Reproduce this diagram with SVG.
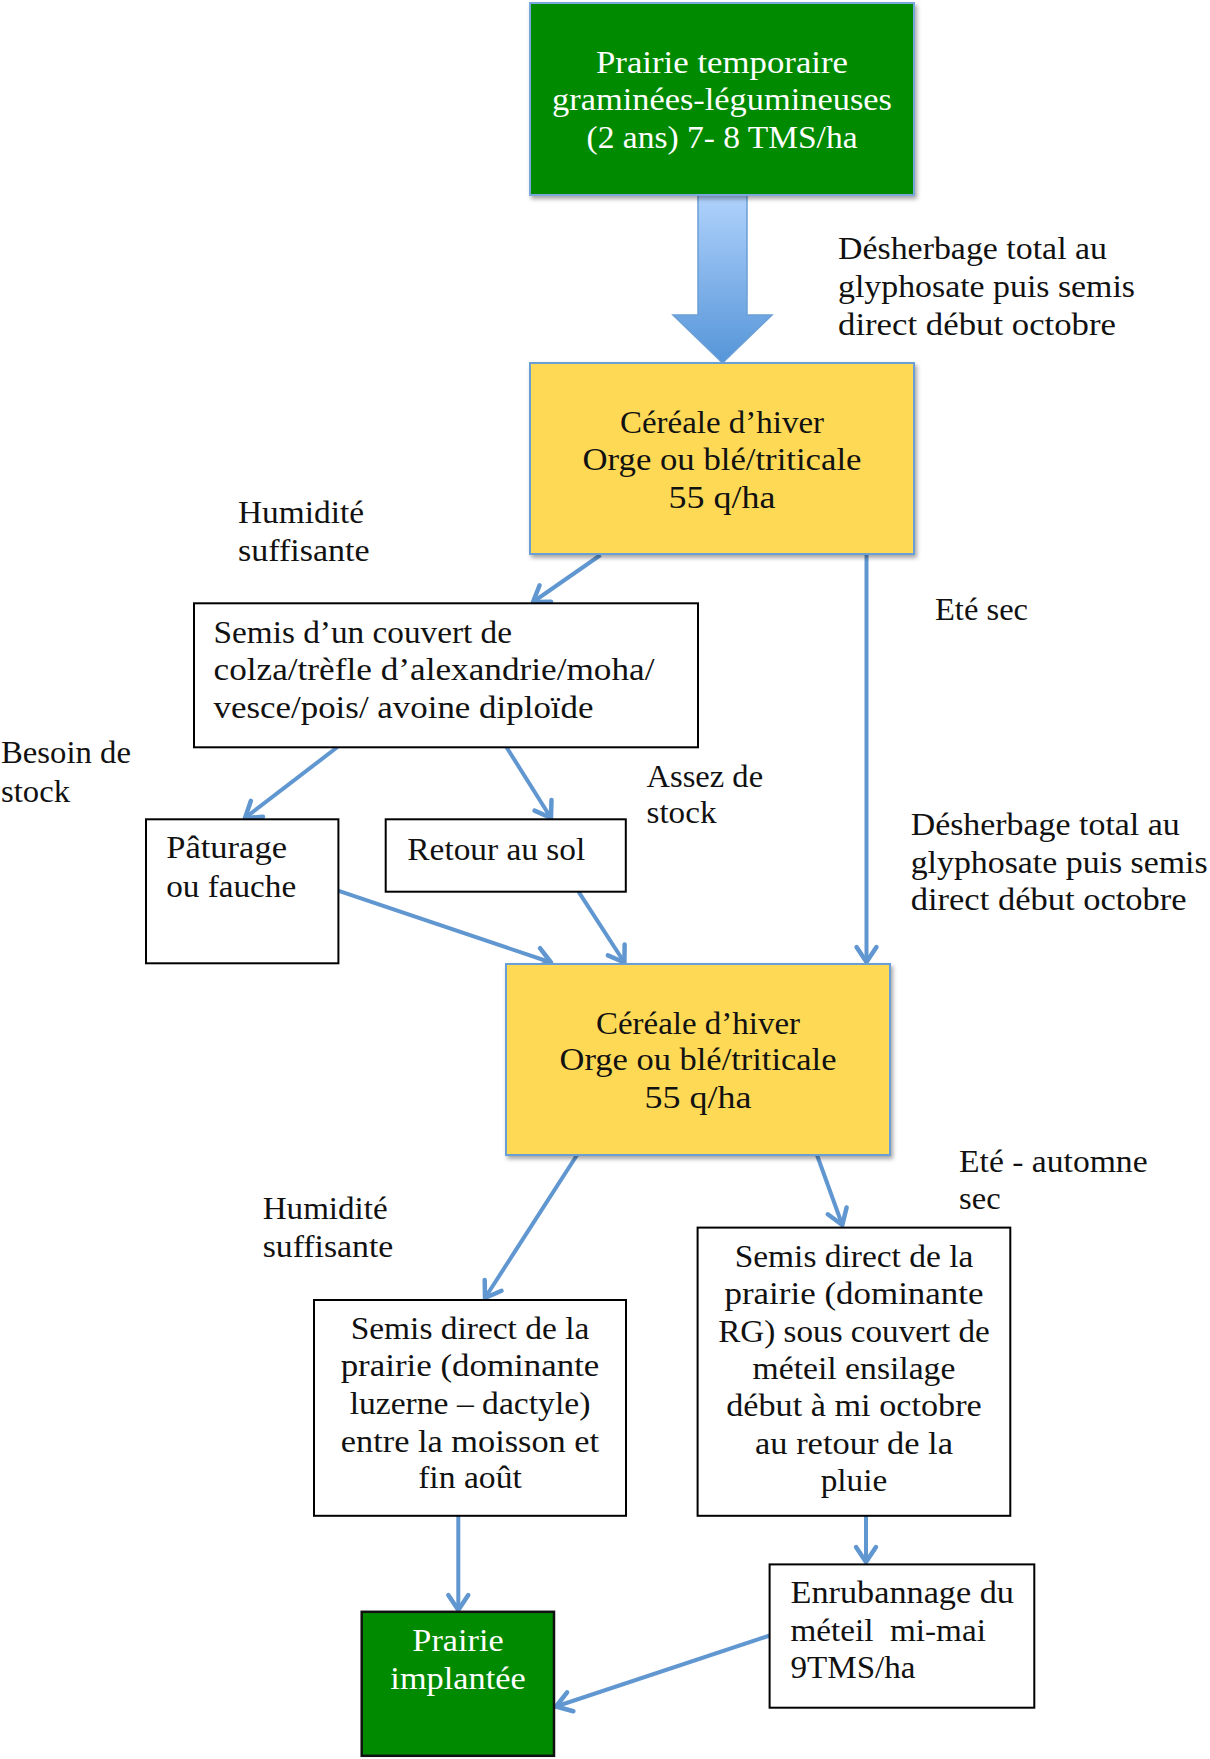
<svg xmlns="http://www.w3.org/2000/svg" width="1210" height="1759" viewBox="0 0 1210 1759">
  <style>
    text { font-family: "Liberation Serif", "Times New Roman", serif; font-size: 31px; fill: #111; }
    .c { text-anchor: middle; }
    .w { fill: #ffffff; }
    .big { font-size: 32px; }
    .greenTop { fill: #008a00; stroke: #7aa7dc; stroke-width: 2; }
    .yellow { fill: #fdd956; stroke: #6a9fd6; stroke-width: 2; }
    .plain { fill: #ffffff; stroke: #000; stroke-width: 2; }
    .dark { fill: #008a00; stroke: #111; stroke-width: 2.5; }
    .link { stroke: #6197d0; stroke-width: 4; fill: none; marker-end: url(#head); }
  </style>
  <defs>
    <marker id="head" markerUnits="userSpaceOnUse" markerWidth="40" markerHeight="40" refX="0" refY="0" viewBox="-20 -20 40 40" orient="auto" overflow="visible">
      <path d="M -15 -10 L 0 0 L -15 10" fill="none" stroke="#6197d0" stroke-width="4.5" stroke-linecap="round" stroke-linejoin="round"/>
    </marker>
    <linearGradient id="blockFill" x1="0" y1="0" x2="0" y2="1">
      <stop offset="0" stop-color="#b0d2fc"/>
      <stop offset="1" stop-color="#5595d8"/>
    </linearGradient>
    <filter id="shadow" x="-10%" y="-10%" width="125%" height="125%">
      <feDropShadow dx="2" dy="3" stdDeviation="2" flood-color="#000" flood-opacity="0.35"/>
    </filter>
  </defs>

  <rect width="1210" height="1759" fill="#ffffff"/>

  <!-- connectors -->
  <g id="connectors">
    <polygon points="698,195 747,195 747,315 772,315 722.5,363 673,315 698,315" fill="url(#blockFill)" stroke="#6b9fd6" stroke-width="1.5"/>
    <line class="link" x1="600.5" y1="555" x2="533" y2="602"/>
    <line class="link" x1="337.5" y1="747" x2="245" y2="818"/>
    <line class="link" x1="506.4" y1="747" x2="551" y2="818"/>
    <line class="link" x1="866.5" y1="554" x2="866.5" y2="962"/>
    <line class="link" x1="338" y1="890.7" x2="551" y2="962.5"/>
    <line class="link" x1="578.5" y1="891.7" x2="624.4" y2="962.5"/>
    <line class="link" x1="577" y1="1155" x2="485" y2="1298"/>
    <line class="link" x1="817" y1="1155" x2="842.3" y2="1225"/>
    <line class="link" x1="458.3" y1="1516" x2="458.3" y2="1610"/>
    <line class="link" x1="866" y1="1516" x2="866" y2="1562"/>
    <line class="link" x1="769.6" y1="1635.5" x2="556" y2="1706.5"/>
  </g>

  <!-- edge labels -->
  <g id="labels">
    <text x="838" y="259" textLength="269" lengthAdjust="spacingAndGlyphs">Désherbage total au</text>
    <text x="838" y="297" textLength="297" lengthAdjust="spacingAndGlyphs">glyphosate puis semis</text>
    <text x="838" y="335" textLength="278" lengthAdjust="spacingAndGlyphs">direct début octobre</text>

    <text x="238" y="522.7" textLength="126" lengthAdjust="spacingAndGlyphs">Humidité</text>
    <text x="238" y="561" textLength="131.6" lengthAdjust="spacingAndGlyphs">suffisante</text>

    <text x="935" y="620" textLength="93" lengthAdjust="spacingAndGlyphs">Eté sec</text>

    <text x="1" y="763.3" textLength="130" lengthAdjust="spacingAndGlyphs">Besoin de</text>
    <text x="1" y="801.7" textLength="69" lengthAdjust="spacingAndGlyphs">stock</text>

    <text x="646.5" y="786.7" textLength="116.6" lengthAdjust="spacingAndGlyphs">Assez de</text>
    <text x="646.5" y="823.3" textLength="70" lengthAdjust="spacingAndGlyphs">stock</text>

    <text x="910.7" y="835" textLength="269" lengthAdjust="spacingAndGlyphs">Désherbage total au</text>
    <text x="910.7" y="873.3" textLength="297" lengthAdjust="spacingAndGlyphs">glyphosate puis semis</text>
    <text x="910.7" y="910" textLength="276" lengthAdjust="spacingAndGlyphs">direct début octobre</text>

    <text x="959" y="1171.6" textLength="188.6" lengthAdjust="spacingAndGlyphs">Eté - automne</text>
    <text x="959" y="1209.1" textLength="41.6" lengthAdjust="spacingAndGlyphs">sec</text>

    <text x="262.7" y="1219" textLength="125" lengthAdjust="spacingAndGlyphs">Humidité</text>
    <text x="262.7" y="1256.5" textLength="130.6" lengthAdjust="spacingAndGlyphs">suffisante</text>
  </g>

  <!-- nodes -->
  <g id="prairie-temporaire">
    <rect class="greenTop" x="530" y="3" width="384" height="192" filter="url(#shadow)"/>
    <text class="c w big" x="722" y="72.7" textLength="252" lengthAdjust="spacingAndGlyphs">Prairie temporaire</text>
    <text class="c w big" x="722" y="110" textLength="340" lengthAdjust="spacingAndGlyphs">graminées-légumineuses</text>
    <text class="c w big" x="722" y="148.3" textLength="271" lengthAdjust="spacingAndGlyphs">(2 ans) 7- 8 TMS/ha</text>
  </g>

  <g id="cereale-1">
    <rect class="yellow" x="530" y="363" width="384" height="191" filter="url(#shadow)"/>
    <text class="c" x="722" y="432.7" textLength="204" lengthAdjust="spacingAndGlyphs">Céréale d’hiver</text>
    <text class="c" x="722" y="470" textLength="279" lengthAdjust="spacingAndGlyphs">Orge ou blé/triticale</text>
    <text class="c" x="722" y="508" textLength="107" lengthAdjust="spacingAndGlyphs">55 q/ha</text>
  </g>

  <g id="semis-couvert">
    <rect class="plain" x="194" y="603.3" width="504" height="144"/>
    <text x="213.5" y="643.3" textLength="298.5" lengthAdjust="spacingAndGlyphs">Semis d’un couvert de</text>
    <text x="213.5" y="680" textLength="441" lengthAdjust="spacingAndGlyphs">colza/trèfle d’alexandrie/moha/</text>
    <text x="213.5" y="718.3" textLength="380" lengthAdjust="spacingAndGlyphs">vesce/pois/ avoine diploïde</text>
  </g>

  <g id="paturage">
    <rect class="plain" x="146" y="819.3" width="192.4" height="144"/>
    <text x="166.2" y="858" textLength="120.8" lengthAdjust="spacingAndGlyphs">Pâturage</text>
    <text x="166.2" y="896.7" textLength="130" lengthAdjust="spacingAndGlyphs">ou fauche</text>
  </g>

  <g id="retour-sol">
    <rect class="plain" x="385.7" y="819.3" width="240.1" height="72.4"/>
    <text x="407.3" y="860" textLength="178" lengthAdjust="spacingAndGlyphs">Retour au sol</text>
  </g>

  <g id="cereale-2">
    <rect class="yellow" x="506" y="964" width="384" height="191" filter="url(#shadow)"/>
    <text class="c" x="698" y="1034" textLength="204" lengthAdjust="spacingAndGlyphs">Céréale d’hiver</text>
    <text class="c" x="698" y="1070" textLength="277" lengthAdjust="spacingAndGlyphs">Orge ou blé/triticale</text>
    <text class="c" x="698" y="1108.3" textLength="107" lengthAdjust="spacingAndGlyphs">55 q/ha</text>
  </g>

  <g id="semis-luzerne">
    <rect class="plain" x="314" y="1300" width="312" height="215.8"/>
    <text class="c" x="470" y="1339.4" textLength="238.7" lengthAdjust="spacingAndGlyphs">Semis direct de la</text>
    <text class="c" x="470" y="1376" textLength="258.7" lengthAdjust="spacingAndGlyphs">prairie (dominante</text>
    <text class="c" x="470" y="1414.4" textLength="240.7" lengthAdjust="spacingAndGlyphs">luzerne – dactyle)</text>
    <text class="c" x="470" y="1451.9" textLength="258.3" lengthAdjust="spacingAndGlyphs">entre la moisson et</text>
    <text class="c" x="470" y="1488.2" textLength="103.7" lengthAdjust="spacingAndGlyphs">fin août</text>
  </g>

  <g id="semis-rg">
    <rect class="plain" x="697.6" y="1227.6" width="312.7" height="288.2"/>
    <text class="c" x="854" y="1267.1" textLength="238.7" lengthAdjust="spacingAndGlyphs">Semis direct de la</text>
    <text class="c" x="854" y="1303.8" textLength="259" lengthAdjust="spacingAndGlyphs">prairie (dominante</text>
    <text class="c" x="854" y="1342.1" textLength="271.5" lengthAdjust="spacingAndGlyphs">RG) sous couvert de</text>
    <text class="c" x="854" y="1378.8" textLength="202.8" lengthAdjust="spacingAndGlyphs">méteil ensilage</text>
    <text class="c" x="854" y="1416.4" textLength="255.6" lengthAdjust="spacingAndGlyphs">début à mi octobre</text>
    <text class="c" x="854" y="1453.9" textLength="198" lengthAdjust="spacingAndGlyphs">au retour de la</text>
    <text class="c" x="854" y="1491.4" textLength="66.6" lengthAdjust="spacingAndGlyphs">pluie</text>
  </g>

  <g id="enrubannage">
    <rect class="plain" x="769.6" y="1564.4" width="264.7" height="143.3"/>
    <text x="790.5" y="1602.7" textLength="223.5" lengthAdjust="spacingAndGlyphs">Enrubannage du</text>
    <text x="790.5" y="1640.6" textLength="195.4" lengthAdjust="spacingAndGlyphs" style="white-space:pre">méteil  mi-mai</text>
    <text x="790.5" y="1677.7" textLength="125" lengthAdjust="spacingAndGlyphs">9TMS/ha</text>
  </g>

  <g id="prairie-implantee">
    <rect class="dark" x="361.7" y="1611.8" width="192.3" height="144"/>
    <text class="c w" x="458" y="1651.3" textLength="91.3" lengthAdjust="spacingAndGlyphs">Prairie</text>
    <text class="c w" x="458" y="1688.8" textLength="135.3" lengthAdjust="spacingAndGlyphs">implantée</text>
  </g>
</svg>
